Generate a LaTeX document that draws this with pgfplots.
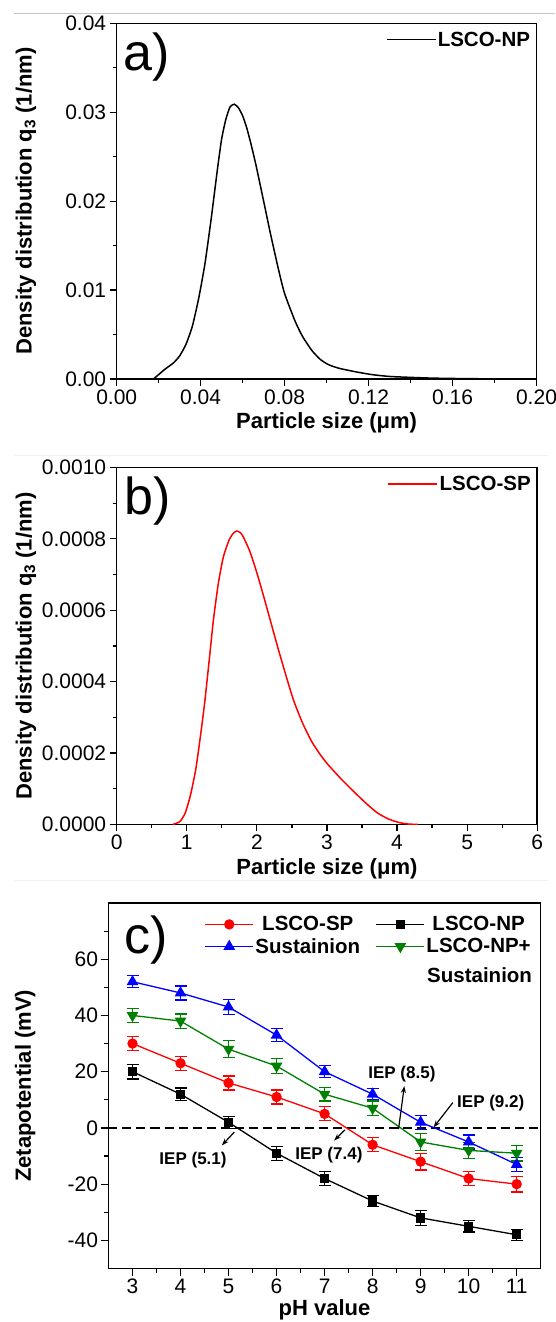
\documentclass[border=0pt]{standalone}
\usepackage{fontspec}
\setmainfont{Liberation Sans}
\usepackage{pgfplots}
\pgfplotsset{compat=1.18}
\usetikzlibrary{arrows.meta}
\newcommand{\tickfont}{\fontsize{21}{25}\selectfont}
\newcommand{\labfont}{\fontsize{22}{26}\selectfont\bfseries}
\newcommand{\legfont}{\fontsize{20.5}{25}\selectfont\bfseries}
\newcommand{\annfont}{\fontsize{17}{20}\selectfont\bfseries}
\newcommand{\panelfont}{\fontsize{52}{60}\selectfont}
\pgfplotsset{
  mystyle/.style={
    scale only axis,
    axis line style={line width=1.4pt},
    every tick/.style={line width=1.2pt, black},
    tick align=outside, tick pos=left,
    major tick length=7pt, minor tick length=4pt,
    ticklabel style={font=\tickfont},
    scaled ticks=false,
    clip=true,
  },
  dist/.style={
    mystyle,
    every axis y label/.style={at={(axis description cs:-0.216,0.5)}, rotate=90, anchor=center, font=\labfont},
    every axis x label/.style={at={(axis description cs:0.5,0)}, anchor=base, yshift=-50pt, font=\labfont},
    legend style={draw=none, fill=none, inner sep=0pt, outer sep=0pt,
      at={(axis description cs:1,1)}, anchor=north east, xshift=-5pt, yshift=-7pt,
      font=\legfont, nodes={inner sep=1.5pt}},
    legend image code/.code={\draw[#1] (0pt,0pt) -- (49pt,0pt);},
  }
}
\begin{document}
\begin{tikzpicture}
\useasboundingbox (0,0) rectangle (555pt,1322pt);
\draw[gray!45, line width=1pt] (14pt,1308.7pt) -- (555pt,1308.7pt);
\draw[gray!10, line width=0.8pt] (14pt,867pt) -- (548pt,867pt);
\draw[gray!10, line width=0.8pt] (14pt,442pt) -- (548pt,442pt);

% ---------------- panel a
\begin{axis}[dist,
  at={(116.7pt,943pt)}, anchor=south west,
  width=419.8pt, height=355.7pt,
  xmin=0, xmax=0.2, ymin=0, ymax=0.04,
  xtick={0,0.04,0.08,0.12,0.16,0.2},
  xticklabels={0.00,0.04,0.08,0.12,0.16,0.20},
  minor xtick={0.02,0.06,0.1,0.14,0.18},
  ytick={0,0.01,0.02,0.03,0.04},
  yticklabels={0.00,0.01,0.02,0.03,0.04},
  minor ytick={0.005,0.015,0.025,0.035},
  xlabel={Particle size (μm)},
  ylabel={Density distribution q\textsubscript{3} (1/nm)},
]
\addplot[black, line width=1.5pt, smooth, tension=0.35] coordinates {
(0.0175,0) (0.020,0.0005) (0.023,0.0011) (0.027,0.0018) (0.030,0.0026)
(0.033,0.0039) (0.036,0.0059) (0.039,0.0090) (0.042,0.0129) (0.045,0.0180)
(0.048,0.0236) (0.050,0.0270) (0.052,0.0292) (0.054,0.0306) (0.056,0.0309)
(0.058,0.0305) (0.060,0.0296) (0.062,0.0282) (0.064,0.0264) (0.0664,0.0240)
(0.070,0.0200) (0.0732,0.0164) (0.077,0.0124) (0.080,0.0096) (0.085,0.0065)
(0.0885,0.0048) (0.093,0.0032) (0.097,0.0022) (0.101,0.0016) (0.106,0.0012)
(0.114,0.0008) (0.122,0.00048) (0.131,0.00027) (0.15,0.0001) (0.17,0.00003) (0.2,0)
};
\addlegendentry{LSCO-NP}
\node[font=\panelfont, inner sep=0pt] at (axis cs:0.0143,0.03615) {a)};
\end{axis}

% ---------------- panel b
\begin{axis}[dist,
  at={(116.7pt,497.5pt)}, anchor=south west,
  width=420.5pt, height=357pt,
  xmin=0, xmax=6, ymin=0, ymax=0.001,
  xtick={0,1,2,3,4,5,6},
  xticklabels={0,1,2,3,4,5,6},
  minor xtick={0.5,1.5,2.5,3.5,4.5,5.5},
  ytick={0,0.0002,0.0004,0.0006,0.0008,0.001},
  yticklabels={0.0000,0.0002,0.0004,0.0006,0.0008,0.0010},
  minor ytick={0.0001,0.0003,0.0005,0.0007,0.0009},
  xlabel={Particle size (μm)},
  ylabel={Density distribution q\textsubscript{3} (1/nm)},
]
\addplot[red, line width=1.5pt, smooth, tension=0.35] coordinates {
(0.80,0) (0.90,0.000008) (0.975,0.000031) (1.05,0.00008) (1.127,0.000153)
(1.19,0.00024) (1.254,0.000339) (1.32,0.00046) (1.38,0.000573) (1.45,0.000675)
(1.52,0.000748) (1.60,0.000795) (1.66,0.000815) (1.711,0.000822) (1.76,0.000818)
(1.80,0.000808) (1.90,0.000765) (2.0,0.000705) (2.1,0.000637) (2.2,0.000566)
(2.3,0.000495) (2.396,0.00043) (2.52,0.00035) (2.65,0.000285) (2.78,0.000233)
(2.90,0.000197) (3.005,0.00017) (3.20,0.000128) (3.41,0.000087)
(3.56,0.000059) (3.716,0.000033) (3.87,0.000016) (4.02,0.000006) (4.15,0.0000015) (4.3,0)
};
\addlegendentry{LSCO-SP}
\node[font=\panelfont, inner sep=0pt] at (axis cs:0.44,0.000907) {b)};
\end{axis}

% ---------------- panel c
\begin{axis}[mystyle,
  at={(108.5pt,53.5pt)}, anchor=south west,
  width=432.2pt, height=365.5pt,
  xmin=2.5, xmax=11.5, ymin=-50, ymax=80,
  xtick={3,4,5,6,7,8,9,10,11},
  xticklabels={3,4,5,6,7,8,9,10,11},
  minor xtick={3.5,4.5,5.5,6.5,7.5,8.5,9.5,10.5},
  ytick={-40,-20,0,20,40,60},
  yticklabels={-40,-20,0,20,40,60},
  minor ytick={-30,-10,10,30,50,70},
  xlabel={pH value},
  ylabel={Zetapotential (mV)},
  every axis y label/.style={at={(axis description cs:-0.193,0.5)}, rotate=90, anchor=center, font=\labfont},
  every axis x label/.style={at={(axis description cs:0.5,0)}, anchor=base, yshift=-47pt, font=\labfont},
  legend columns=2,
  legend style={draw=none, fill=none, inner sep=0pt, outer sep=0pt,
    at={(axis description cs:0.2224,1)}, anchor=north west, yshift=-12pt,
    font=\legfont, nodes={inner sep=1.5pt}, row sep=3pt,
    /tikz/every even column/.append style={column sep=14pt}},
  legend image code/.code={\draw[mark repeat=2,mark phase=2,#1] plot coordinates {(0pt,0pt) (24pt,0pt) (48pt,0pt)};},
  error bars/y dir=both, error bars/y explicit,
]
\addplot[black, dashed, dash pattern=on 9pt off 5pt, line width=1.4pt, forget plot] coordinates {(2.5,0) (11.5,0)};

\addplot[red, line width=1.3pt, mark=*, mark size=4.5pt,
  error bars/error bar style={line width=1.2pt},
  error bars/error mark options={rotate=90, mark size=6pt, line width=1.2pt}]
  coordinates {(3,30) +- (0,2.5) (4,23) +- (0,2.5) (5,16) +- (0,2.5) (6,11) +- (0,2.5) (7,5) +- (0,2.5)
  (8,-6) +- (0,2.5) (9,-12) +- (0,3) (10,-18) +- (0,2.5) (11,-20) +- (0,2.8)};
\addlegendentry{LSCO-SP}

\addplot[black, line width=1.3pt, mark=square*, mark size=4pt,
  error bars/error bar style={line width=1.2pt},
  error bars/error mark options={rotate=90, mark size=6pt, line width=1.2pt}]
  coordinates {(3,20) +- (0,2.6) (4,12) +- (0,2.2) (5,2) +- (0,2.2) (6,-9) +- (0,2.5) (7,-18) +- (0,2.5)
  (8,-26) +- (0,2) (9,-32) +- (0,2.6) (10,-35) +- (0,2) (11,-38) +- (0,2)};
\addlegendentry{LSCO-NP}

\addplot[blue, line width=1.3pt, mark=triangle*, mark size=5.5pt,
  error bars/error bar style={line width=1.2pt},
  error bars/error mark options={rotate=90, mark size=6pt, line width=1.2pt}]
  coordinates {(3,52) +- (0,2.2) (4,48) +- (0,2.5) (5,43) +- (0,2.8) (6,33) +- (0,2.4) (7,20) +- (0,2.2)
  (8,12) +- (0,2) (9,2) +- (0,2.5) (10,-5) +- (0,2.5) (11,-13) +- (0,2.5)};
\addlegendentry{Sustainion}

\addplot[green!50!black, line width=1.3pt, mark=triangle*, mark size=5.5pt, mark options={rotate=180},
  error bars/error bar style={line width=1.2pt},
  error bars/error mark options={rotate=90, mark size=6pt, line width=1.2pt}]
  coordinates {(3,40) +- (0,2.5) (4,38) +- (0,2.5) (5,28) +- (0,3) (6,22) +- (0,2.6) (7,12) +- (0,2.4)
  (8,7) +- (0,2.6) (9,-5) +- (0,3) (10,-8) +- (0,2.8) (11,-9) +- (0,2.8)};
\addlegendentry{LSCO-NP+}

\node[font=\legfont, inner sep=0pt, anchor=base west] at (axis description cs:0.737,0.7825) {Sustainion};

\node[font=\panelfont, inner sep=0pt] at (axis cs:3.28,66.8) {c)};

\draw[-{Stealth[length=7pt,width=5pt]}, line width=1.2pt] (axis cs:5.12,-1.5) -- (axis cs:4.86,-6.2);
\node[font=\annfont, inner sep=0pt] at (axis cs:4.26,-11.5) {IEP (5.1)};
\draw[-{Stealth[length=7pt,width=5pt]}, line width=1.2pt] (axis cs:7.42,-0.7) -- (axis cs:7.2,-4.5);
\node[font=\annfont, inner sep=0pt] at (axis cs:7.09,-9.75) {IEP (7.4)};
\draw[-{Stealth[length=7pt,width=5pt]}, line width=1.2pt] (axis cs:8.54,-0.4) -- (axis cs:8.66,14.9);
\node[font=\annfont, inner sep=0pt] at (axis cs:8.61,19.2) {IEP (8.5)};
\draw[-{Stealth[length=7pt,width=5pt]}, line width=1.2pt] (axis cs:9.67,9.0) -- (axis cs:9.27,0.2);
\node[font=\annfont, inner sep=0pt] at (axis cs:10.46,9.0) {IEP (9.2)};
\end{axis}
\end{tikzpicture}
\end{document}
